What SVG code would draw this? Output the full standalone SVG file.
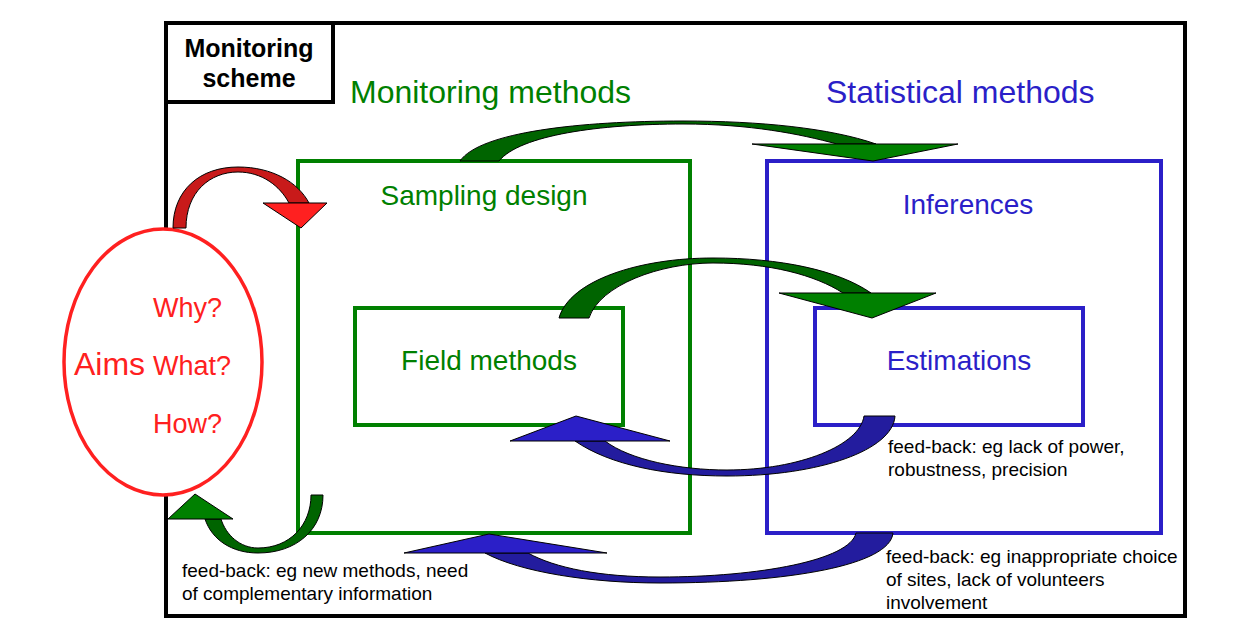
<svg xmlns="http://www.w3.org/2000/svg" width="1253" height="642" viewBox="0 0 1253 642">
<style>
text{font-family:"Liberation Sans",Arial,sans-serif}
.g{fill:#008000}
.b{fill:#2B1FC8}
.r{fill:#FF2020}
.k{fill:#000}
.fb{font-size:19px;fill:#000}
.box{fill:none;stroke-width:4}
.ar{stroke:#000;stroke-width:1;stroke-linejoin:round}
</style>
<rect width="1253" height="642" fill="#fff"/>
<g id="frame">
<rect x="166" y="23" width="1019" height="593" fill="none" stroke="#000" stroke-width="4"/>
</g>
<g id="scheme">
<rect x="166" y="23" width="167" height="79" fill="#fff" stroke="#000" stroke-width="4"/>
<text x="249" y="57" text-anchor="middle" font-size="25" font-weight="bold" class="k">Monitoring</text>
<text x="249" y="87" text-anchor="middle" font-size="25" font-weight="bold" class="k">scheme</text>
</g>
<g id="titles">
<text x="350" y="103" font-size="32" class="g">Monitoring methods</text>
<text x="826" y="103" font-size="32" class="b">Statistical methods</text>
</g>
<g id="sampling">
<rect x="298" y="161" width="392" height="372" class="box" stroke="#008000"/>
<text x="484" y="205" text-anchor="middle" font-size="28" class="g">Sampling design</text>
</g>
<g id="field">
<rect x="355" y="308" width="268" height="117" class="box" stroke="#008000"/>
<text x="489" y="370" text-anchor="middle" font-size="28" class="g">Field methods</text>
</g>
<g id="inferences">
<rect x="767" y="161" width="394" height="372" class="box" stroke="#2B1FC8"/>
<text x="968" y="214" text-anchor="middle" font-size="28" class="b">Inferences</text>
</g>
<g id="estimations">
<rect x="815" y="308" width="268" height="117" class="box" stroke="#2B1FC8"/>
<text x="959" y="370" text-anchor="middle" font-size="28" class="b">Estimations</text>
</g>
<g id="aims">
<ellipse cx="163" cy="362" rx="99" ry="133" fill="#fff" stroke="#FF2020" stroke-width="3.5"/>
<text x="74" y="375" font-size="32" class="r">Aims</text>
<text x="153" y="317" font-size="27" class="r">Why?</text>
<text x="153" y="375" font-size="27" class="r">What?</text>
<text x="153" y="433" font-size="27" class="r">How?</text>
</g>
<g id="connectors">
<path class="ar" fill="#C81A1A" d="M173,228 L186,228 C186,192 210,172 238,172 C262,172 280,186 289,203 L309,203 C298,182 272,167 238,167 C200,167 173,190 173,228 Z"/>
<path class="ar" fill="#FF2020" d="M263,203 L301,228 L327,203 Z"/>
<path class="ar" fill="#006400" d="M460,161 L499,161 C520,135 600,124 683,124 C750,124 800,134 837,144 L876,144 C830,128 760,121 683,121 C580,121 480,132 460,161 Z"/>
<path class="ar" fill="#008000" d="M752,144 L873,161 L958,144 Z"/>
<path class="ar" fill="#006400" d="M559,318 L589,318 C600,285 660,263 713,263 C770,263 815,275 843,293 L871,293 C838,270 780,258 713,258 C640,258 570,280 559,318 Z"/>
<path class="ar" fill="#008000" d="M779,293 L872,318 L936,293 Z"/>
<path class="ar" fill="#231C9E" d="M895,416 L864,416 C860,445 800,470 727,470 C680,470 630,460 605,441 L575,441 C610,465 665,476 727,476 C820,476 893,450 895,416 Z"/>
<path class="ar" fill="#2B1FC8" d="M670,441 L576,416 L510,441 Z"/>
<path class="ar" fill="#006400" d="M323,495 L311,495 C311,525 290,548 258,548 C240,548 226,535 221,519 L205,519 C212,540 232,553 258,553 C296,553 323,530 323,495 Z"/>
<path class="ar" fill="#008000" d="M233,519 L195,494 L168,519 Z"/>
<path class="ar" fill="#231C9E" d="M893,533 L856,533 C850,560 760,577 660,577 C600,577 555,568 528,553 L485,553 C520,572 590,583 660,583 C790,583 890,565 893,533 Z"/>
<path class="ar" fill="#2B1FC8" d="M607,553 L489,534 L404,553 Z"/>
</g>
<g id="labels">
<text x="888" y="453" class="fb">feed-back: eg lack of power,</text>
<text x="888" y="476" class="fb">robustness, precision</text>
<text x="886" y="563" class="fb">feed-back: eg inappropriate choice</text>
<text x="886" y="586" class="fb">of sites, lack of volunteers</text>
<text x="886" y="609" class="fb">involvement</text>
<text x="182" y="577" class="fb">feed-back: eg new methods, need</text>
<text x="182" y="600" class="fb">of complementary information</text>
</g>
</svg>
